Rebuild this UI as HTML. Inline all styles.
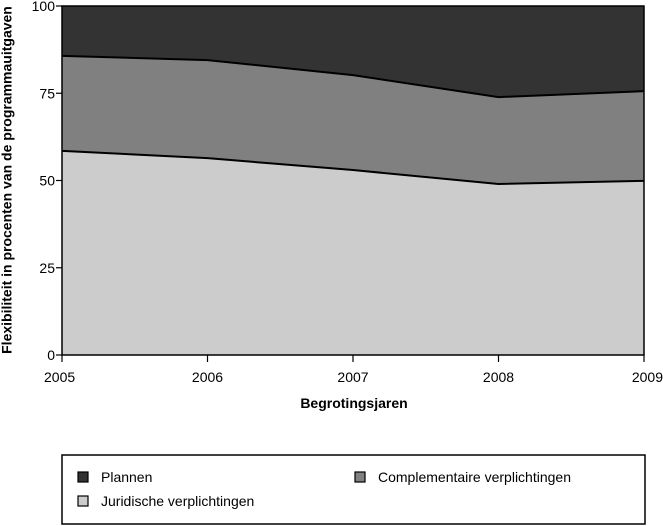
<!DOCTYPE html>
<html><head><meta charset="utf-8"><style>
body{margin:0;background:#fff;}
svg{display:block;font-family:"Liberation Sans",sans-serif;}
</style></head><body>
<svg id="chart" width="663" height="526" viewBox="0 0 663 526">
<g id="plot"></g>
<g id="axes"></g>
<text x="8" y="180" transform="rotate(-90 8 180)" text-anchor="middle" dominant-baseline="middle" font-size="14" font-weight="bold">Flexibiliteit in procenten van de programmauitgaven</text>
<text x="354" y="408" text-anchor="middle" font-size="14" font-weight="bold">Begrotingsjaren</text>
<g>
<rect x="62" y="455" width="583" height="69" fill="#fff" stroke="#000" stroke-width="1.5"/>
<g>
<rect x="78" y="472" width="10" height="10" fill="#333" stroke="#000" stroke-width="1.2"/>
<text x="101" y="482" font-size="14">Plannen</text></g>
<g>
<rect x="355" y="472" width="10" height="10" fill="#808080" stroke="#000" stroke-width="1.2"/>
<text x="378" y="482" font-size="14">Complementaire verplichtingen</text></g>
<g>
<rect x="78" y="496" width="10" height="10" fill="#ccc" stroke="#000" stroke-width="1.2"/>
<text x="101" y="506" font-size="14">Juridische verplichtingen</text></g>
</g>
</svg>
<script>
const years = [2005, 2006, 2007, 2008, 2009];
const juridische = [58.5, 56.4, 53.0, 49.0, 49.9];
const complementaire = [27.2, 28.1, 27.2, 24.9, 25.7];
const plannen = [14.3, 15.5, 19.8, 26.1, 24.4];
const yTicks = [0, 25, 50, 75, 100];

const NS = "http://www.w3.org/2000/svg";
const X0 = 62, X1 = 644, Y0 = 355, Y1 = 6;
function xs(v){ return X0 + (v - years[0]) / (years[years.length-1] - years[0]) * (X1 - X0); }
function ys(v){ return Y0 - v / 100 * (Y0 - Y1); }
function mk(tag, attrs, parent){ const e = document.createElementNS(NS, tag); for (const k in attrs) e.setAttribute(k, attrs[k]); parent.appendChild(e); return e; }

const plot = document.getElementById('plot');
const axes = document.getElementById('axes');
const series = [
  {vals: juridische, fill: '#cccccc', name: 'area-juridische'},
  {vals: complementaire, fill: '#808080', name: 'area-complementaire'},
  {vals: plannen, fill: '#333333', name: 'area-plannen'}
];
let base = years.map(() => 0);
const tops = [];
series.forEach(s => {
  const top = base.map((b, i) => b + s.vals[i]);
  let d = years.map((y, i) => (i ? 'L' : 'M') + xs(y) + ',' + ys(top[i])).join(' ');
  for (let i = years.length - 1; i >= 0; i--) d += ' L' + xs(years[i]) + ',' + ys(base[i]);
  const p = mk('path', {d: d + ' Z', fill: s.fill}, plot);
  
  
  tops.push(top);
  base = top;
});
tops.slice(0, 2).forEach((top, k) => {
  const l = mk('polyline', {points: years.map((y, i) => xs(y) + ',' + ys(top[i])).join(' '), fill: 'none', stroke: '#000', 'stroke-width': 2}, plot);
  
  
});
const frame = mk('rect', {x: X0, y: Y1, width: X1 - X0, height: Y0 - Y1, fill: 'none', stroke: '#000', 'stroke-width': 1.5}, axes);


yTicks.forEach(t => {
  mk('line', {x1: X0 - 6, x2: X0, y1: ys(t), y2: ys(t), stroke: '#000', 'stroke-width': 1.2}, axes);
  const tx = mk('text', {x: X0 - 7, y: ys(t) + 5, 'text-anchor': 'end', 'font-size': 14}, axes);
  tx.textContent = t;
  
  
});
years.forEach((y, i) => {
  mk('line', {x1: xs(y), x2: xs(y), y1: Y0, y2: Y0 + 7, stroke: '#000', 'stroke-width': 1.2}, axes);
  const anchor = i === 0 ? 'start' : (i === years.length - 1 ? 'end' : 'middle');
  const tx = mk('text', {x: i === 0 ? 0 + xs(y) - 18 : (i === years.length - 1 ? xs(y) + 19 : xs(y)), y: Y0 + 27, 'text-anchor': anchor, 'font-size': 14}, axes);
  tx.textContent = y;
  
  
});
</script>
</body></html>
